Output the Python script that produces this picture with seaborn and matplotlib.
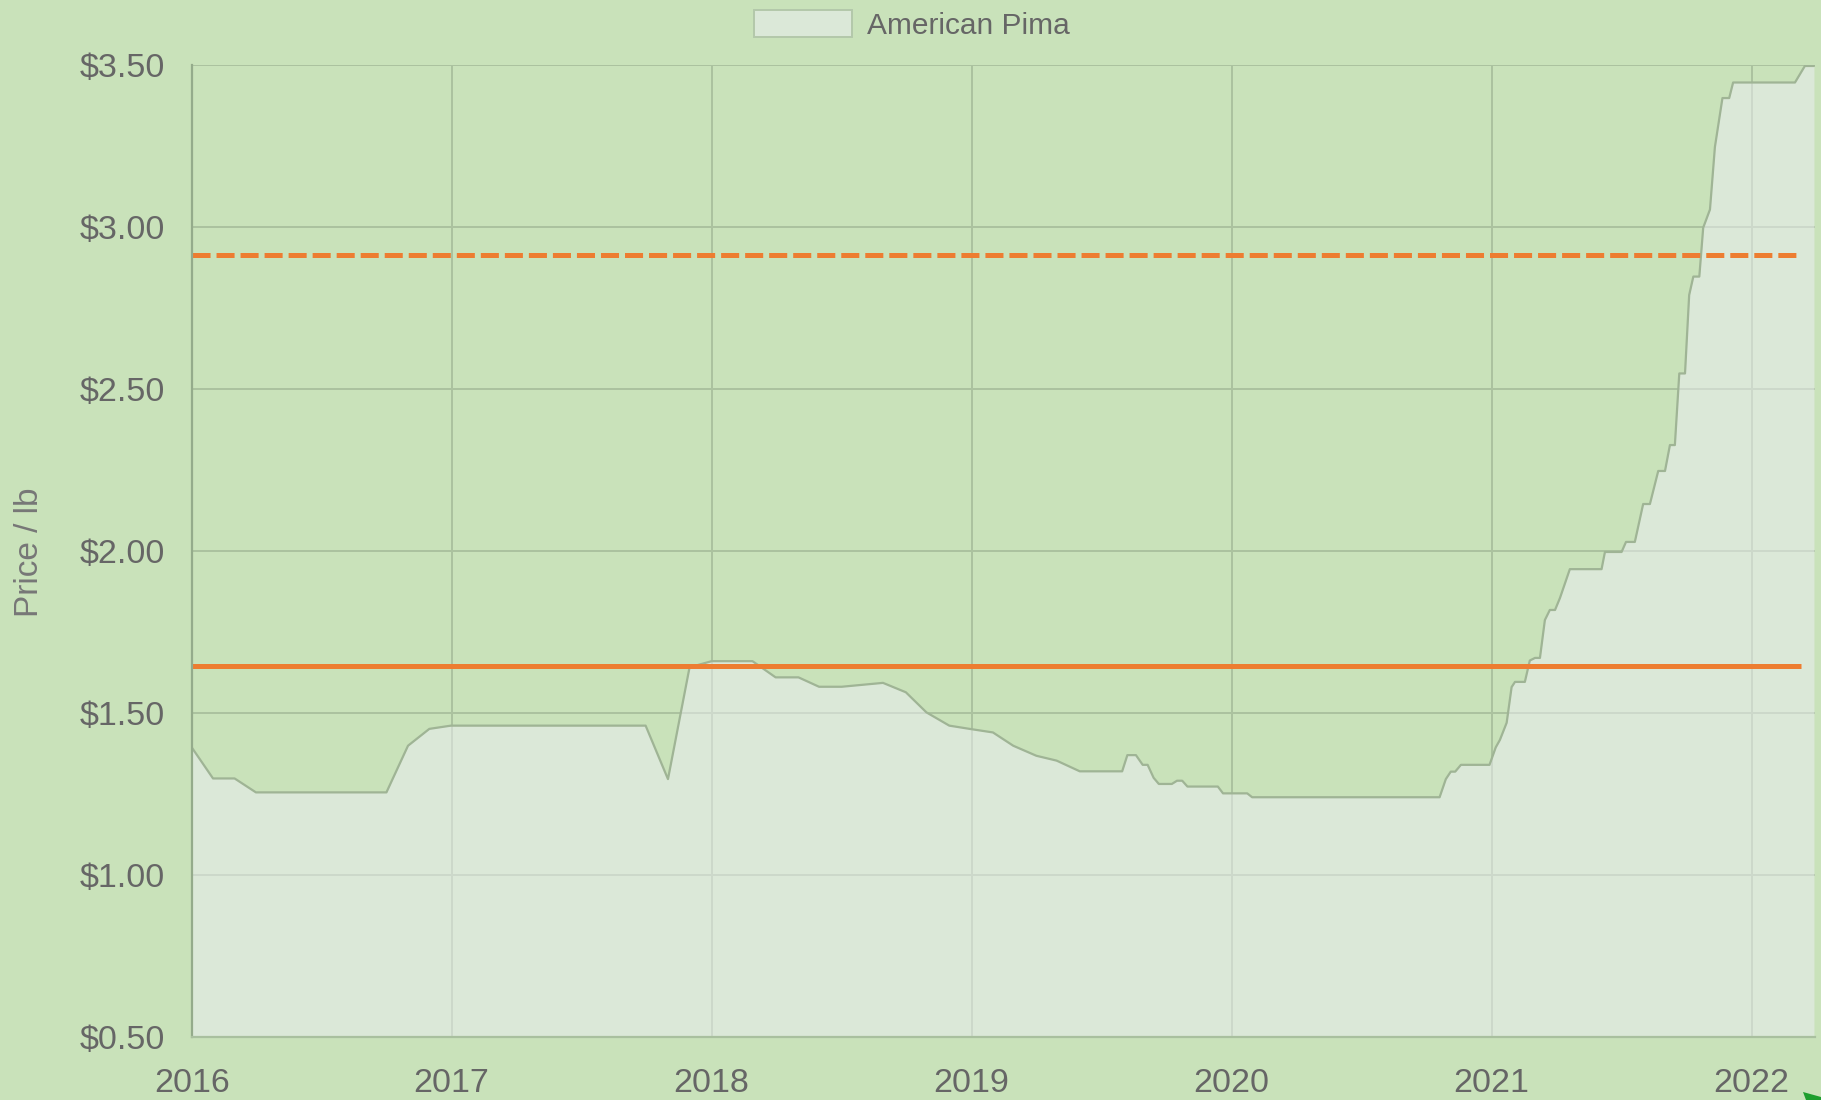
import matplotlib
matplotlib.use("Agg")
import matplotlib.pyplot as plt
import seaborn as sns
import pandas as pd
from matplotlib.patches import Patch, Polygon

# ---------------- data ----------------
years = [
    2016.000, 2016.082, 2016.165, 2016.247, 2016.749, 2016.832, 2016.914, 2016.997,
    2017.746, 2017.832, 2017.915, 2018.000, 2018.157, 2018.246, 2018.334, 2018.413,
    2018.500, 2018.659, 2018.747, 2018.826, 2018.914, 2019.000, 2019.082, 2019.160,
    2019.249, 2019.327, 2019.416, 2019.579, 2019.599, 2019.632, 2019.658, 2019.677,
    2019.700, 2019.720, 2019.770, 2019.790, 2019.810, 2019.830, 2019.947, 2019.967,
    2020.060, 2020.079, 2020.800, 2020.824, 2020.843, 2020.860, 2020.882, 2020.992,
    2021.016, 2021.032, 2021.058, 2021.077, 2021.090, 2021.128, 2021.147, 2021.167,
    2021.186, 2021.205, 2021.224, 2021.244, 2021.263, 2021.301, 2021.423, 2021.436,
    2021.500, 2021.517, 2021.551, 2021.583, 2021.609, 2021.641, 2021.667, 2021.686,
    2021.705, 2021.722, 2021.744, 2021.760, 2021.776, 2021.799, 2021.814, 2021.840,
    2021.859, 2021.888, 2021.914, 2021.929, 2022.167, 2022.205, 2022.240,
]
prices = [
    1.394, 1.298, 1.298, 1.255, 1.255, 1.399, 1.451, 1.461,
    1.461, 1.296, 1.641, 1.660, 1.660, 1.610, 1.610, 1.581,
    1.581, 1.593, 1.564, 1.502, 1.461, 1.450, 1.440, 1.399,
    1.368, 1.353, 1.320, 1.320, 1.370, 1.370, 1.340, 1.340,
    1.300, 1.281, 1.281, 1.291, 1.291, 1.273, 1.273, 1.252,
    1.252, 1.240, 1.240, 1.296, 1.319, 1.319, 1.340, 1.340,
    1.394, 1.417, 1.470, 1.580, 1.596, 1.596, 1.662, 1.670,
    1.670, 1.787, 1.818, 1.818, 1.855, 1.944, 1.944, 1.997,
    1.997, 2.028, 2.028, 2.145, 2.145, 2.247, 2.247, 2.327,
    2.327, 2.548, 2.548, 2.790, 2.847, 2.847, 2.998, 3.054,
    3.247, 3.398, 3.398, 3.446, 3.446, 3.497, 3.497,
]
series_name = "American Pima"
solid_ref = 1.645
dashed_ref = 2.915
ref_span = [2016.0, 2022.19]
x_ticks = [2016, 2017, 2018, 2019, 2020, 2021, 2022]
x_tick_labels = ["2016", "2017", "2018", "2019", "2020", "2021", "2022"]
y_ticks = [0.5, 1.0, 1.5, 2.0, 2.5, 3.0, 3.5]
y_tick_labels = ["\\$0.50", "\\$1.00", "\\$1.50", "\\$2.00", "\\$2.50", "\\$3.00", "\\$3.50"]
y_label = "Price / lb"

# ---------------- style ----------------
BG = "#c9e2ba"
FILL_RGBA = (237 / 255, 238 / 255, 246 / 255, 0.5)
LINE = "#9fb495"
GRID = "#abc29f"
ORANGE = "#ed7d31"
TXT = "#666666"

sns.set_theme(style="white", rc={"axes.facecolor": BG, "figure.facecolor": BG})
plt.rcParams["font.family"] = ["Liberation Sans", "DejaVu Sans"]
plt.rcParams["lines.scale_dashes"] = False

W, H = 1821, 1100
fig = plt.figure(figsize=(W / 100, H / 100), dpi=100)
x0, x1, ytop, ybot = 191.7, 1815.0, 65.0, 1037.0
ax = fig.add_axes([x0 / W, 1 - ybot / H, (x1 - x0) / W, (ybot - ytop) / H])
ax.set_facecolor(BG)

df = pd.DataFrame({"year": years, "price": prices})

# grid (under the fill)
ax.set_axisbelow(True)
ax.grid(True, color=GRID, lw=1.4, alpha=1.0, zorder=0)

ax.fill_between(df["year"], df["price"], 0.5, color=FILL_RGBA, lw=0, zorder=1)
sns.lineplot(data=df, x="year", y="price", ax=ax, color=LINE, lw=1.6,
             estimator=None, sort=False, zorder=2, legend=False)

# reference lines
ax.plot(ref_span, [solid_ref, solid_ref], color=ORANGE, lw=3.6, zorder=3,
        solid_capstyle="butt")
ax.plot(ref_span, [dashed_ref, dashed_ref], color=ORANGE, lw=3.6, zorder=3,
        linestyle=(0, (13.0, 4.3)), dash_capstyle="butt")

ax.set_xlim(2016, 2022.244)
ax.set_ylim(0.5, 3.5)
ax.set_xticks(x_ticks)
ax.set_xticklabels(x_tick_labels)
ax.set_yticks(y_ticks)
ax.set_yticklabels(y_tick_labels)
ax.set_xlabel("")
ax.set_ylabel("")

ax.tick_params(axis="both", which="major", length=18, width=1.4, color=GRID,
               labelsize=24.5, labelcolor=TXT)
ax.tick_params(axis="x", pad=4)
ax.tick_params(axis="y", pad=1)

for s in ["top", "right"]:
    ax.spines[s].set_visible(False)
ax.spines["left"].set_color("#94ab8b")
ax.spines["left"].set_linewidth(1.6)
ax.spines["bottom"].set_color("#a9c09f")
ax.spines["bottom"].set_linewidth(1.6)
ax.spines["left"].set_zorder(4)
ax.spines["bottom"].set_zorder(4)

fig.text(29 / W, 1 - 552 / H, y_label, rotation=90, ha="center", va="center",
         fontsize=24, color="#777777")

handle = Patch(facecolor=FILL_RGBA, edgecolor="#b3c8aa", lw=1.4)
leg = fig.legend(handles=[handle], labels=[series_name], loc="center",
                 bbox_to_anchor=(912 / W, 1 - 25 / H), frameon=False,
                 fontsize=21.5, handlelength=3.3, handleheight=1.0,
                 handletextpad=0.5, borderpad=0, borderaxespad=0)
for t in leg.get_texts():
    t.set_color(TXT)

# small green corner marker seen in the reference
tri = Polygon([[1803 / W, 1 - 1092 / H], [1.0, 1 - 1097 / H], [1.0, 0.0], [1806 / W, 0.0]],
              closed=True, transform=fig.transFigure, facecolor="#1e9e2e", edgecolor="none")
fig.add_artist(tri)

fig.savefig("out.png", dpi=100, facecolor=BG)
